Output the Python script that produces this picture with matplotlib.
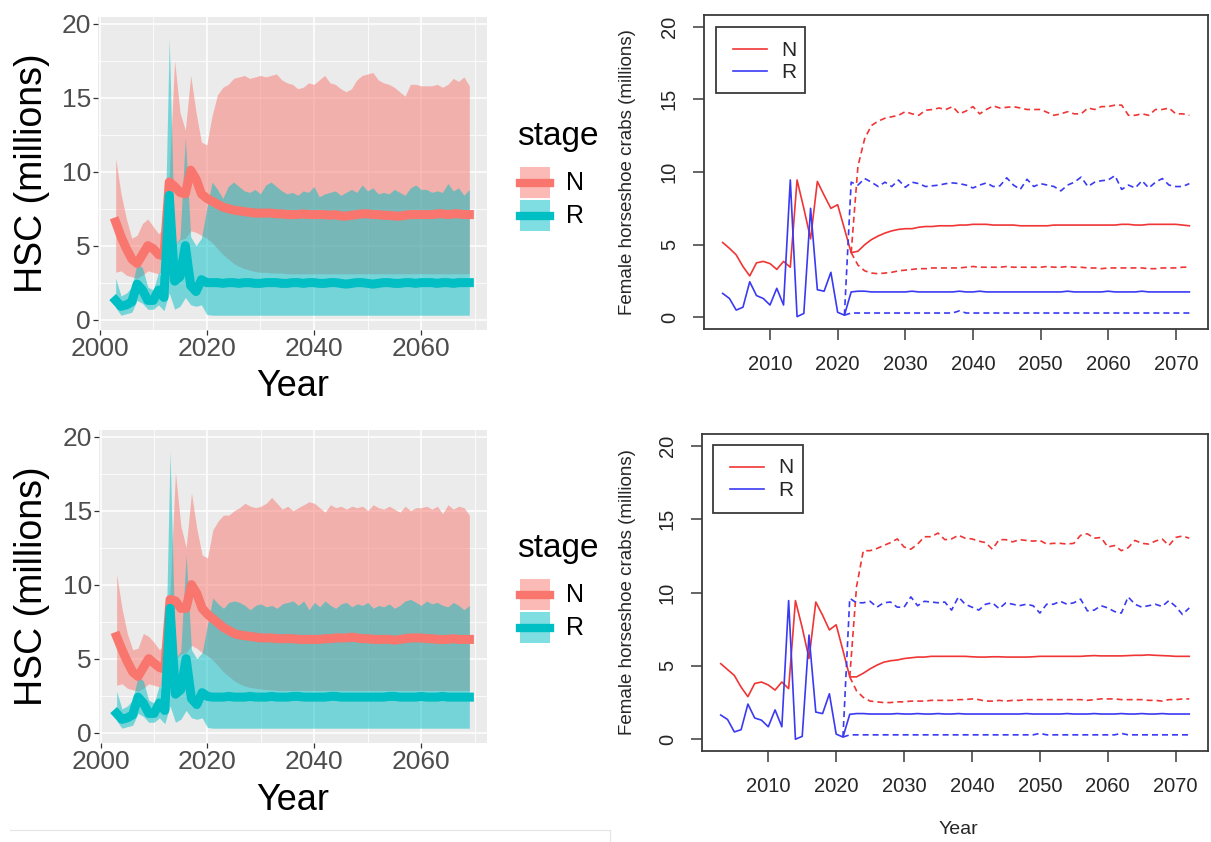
import numpy as np
import matplotlib
matplotlib.use("Agg")
import matplotlib.pyplot as plt
from matplotlib.lines import Line2D
from matplotlib.patches import Rectangle

#====== DATA ==========================================
# ggplot panels: median + 95% band per stage, 2003-2069
years_gg = np.arange(2003, 2070)

top_n_mid = [6.6, 5.6, 4.8, 4.1, 3.8, 4.4, 5.0, 4.8, 4.4, 4.3,
             9.3, 9.0, 8.6, 8.5, 10.1, 9.5, 8.5, 8.2, 8.0, 7.8,
             7.6, 7.5, 7.4, 7.35, 7.3, 7.25, 7.2, 7.2, 7.2, 7.2,
             7.15, 7.15, 7.1, 7.1, 7.1, 7.15, 7.1, 7.1, 7.1, 7.1,
             7.05, 7.1, 7.0, 7.0, 7.05, 7.1, 7.15, 7.15, 7.1, 7.1,
             7.05, 7.05, 7.0, 7.0, 7.05, 7.1, 7.1, 7.1, 7.1, 7.1,
             7.15, 7.15, 7.1, 7.15, 7.15, 7.1, 7.1]
top_n_hi = [10.9, 8.5, 6.8, 5.5, 5.7, 6.5, 6.8, 6.3, 5.8, 6.2,
            9.8, 17.5, 14.0, 12.8, 16.5, 14.0, 12.0, 11.8, 13.8, 15.2,
            15.7, 15.9, 16.3, 16.4, 16.5, 16.3, 16.4, 16.5, 16.4, 16.5,
            16.6, 16.2, 16.0, 15.9, 15.6, 15.7, 16.0, 15.9, 16.2, 16.5,
            16.0, 15.9, 15.6, 15.4, 15.6, 16.2, 16.5, 16.6, 16.7, 16.2,
            16.0, 15.9, 15.7, 15.4, 15.1, 15.9, 15.9, 15.8, 15.8, 15.8,
            15.9, 15.7, 15.9, 16.3, 16.1, 16.4, 15.8]
top_n_lo = [3.2, 3.3, 3.0, 2.9, 2.8, 3.0, 3.3, 3.2, 3.1, 3.3,
            4.2, 5.0, 5.4, 5.5, 6.0, 5.9, 5.7, 5.5, 5.2, 4.8,
            4.4, 4.1, 3.8, 3.6, 3.45, 3.35, 3.25, 3.2, 3.2, 3.15,
            3.15, 3.15, 3.1, 3.1, 3.1, 3.1, 3.1, 3.1, 3.1, 3.1,
            3.1, 3.1, 3.1, 3.1, 3.1, 3.1, 3.1, 3.1, 3.1, 3.1,
            3.1, 3.1, 3.1, 3.1, 3.1, 3.1, 3.1, 3.1, 3.1, 3.1,
            3.1, 3.1, 3.1, 3.1, 3.1, 3.1, 3.1]
top_r_mid = [1.3, 0.9, 1.0, 1.2, 2.4, 2.0, 1.3, 1.3, 2.0, 1.5,
             8.4, 2.6, 2.9, 5.0, 2.3, 1.9, 2.7, 2.5, 2.5, 2.5,
             2.45, 2.5, 2.5, 2.45, 2.5, 2.5, 2.45, 2.45, 2.5, 2.5,
             2.5, 2.45, 2.45, 2.5, 2.5, 2.45, 2.5, 2.5, 2.45, 2.45,
             2.5, 2.5, 2.45, 2.4, 2.45, 2.5, 2.5, 2.45, 2.4, 2.45,
             2.5, 2.5, 2.45, 2.45, 2.5, 2.5, 2.45, 2.5, 2.5, 2.5,
             2.45, 2.5, 2.5, 2.45, 2.5, 2.5, 2.5]
top_r_hi = [2.8, 1.6, 1.8, 2.2, 3.8, 3.5, 2.2, 2.0, 3.2, 2.5,
            19.0, 5.0, 5.5, 12.3, 5.6, 5.0, 5.5, 7.5, 9.3, 8.8,
            8.2, 9.0, 9.3, 9.0, 8.7, 8.6, 8.8, 8.5, 9.1, 9.3,
            9.0, 8.7, 8.5, 8.6, 8.4, 8.7, 8.6, 9.0, 8.3, 8.5,
            8.6, 8.7, 8.4, 8.6, 8.8, 8.6, 9.1, 8.7, 8.9, 8.5,
            8.6, 8.5, 8.8, 8.6, 8.4, 8.9, 9.1, 8.8, 8.8, 8.6,
            8.7, 8.6, 9.2, 8.7, 8.9, 8.4, 8.8]
top_r_lo = [0.8, 0.3, 0.4, 0.5, 1.3, 1.1, 0.7, 0.7, 1.0, 0.6,
            1.8, 0.7, 0.9, 1.5, 1.0, 0.9, 1.0, 0.35, 0.3, 0.3,
            0.3, 0.3, 0.3, 0.3, 0.3, 0.3, 0.3, 0.3, 0.3, 0.3,
            0.3, 0.3, 0.3, 0.3, 0.3, 0.3, 0.3, 0.3, 0.3, 0.3,
            0.3, 0.3, 0.3, 0.3, 0.3, 0.3, 0.3, 0.3, 0.3, 0.3,
            0.3, 0.3, 0.3, 0.3, 0.3, 0.3, 0.3, 0.3, 0.3, 0.3,
            0.3, 0.3, 0.3, 0.3, 0.3, 0.3, 0.3]

bot_n_mid = [6.5, 5.6, 4.8, 4.1, 3.8, 4.4, 5.0, 4.7, 4.4, 4.3,
             9.0, 8.9, 8.4, 8.4, 10.0, 9.4, 8.4, 8.0, 7.7, 7.4,
             7.1, 6.9, 6.7, 6.6, 6.55, 6.5, 6.45, 6.4, 6.4, 6.4,
             6.35, 6.35, 6.35, 6.35, 6.3, 6.3, 6.3, 6.3, 6.3, 6.35,
             6.35, 6.4, 6.4, 6.4, 6.45, 6.4, 6.35, 6.35, 6.3, 6.3,
             6.3, 6.3, 6.25, 6.3, 6.35, 6.4, 6.4, 6.4, 6.35, 6.35,
             6.3, 6.3, 6.3, 6.35, 6.3, 6.3, 6.3]
bot_n_hi = [10.7, 8.4, 6.7, 5.6, 5.7, 6.7, 6.5, 6.1, 5.6, 6.0,
            9.6, 17.6, 14.0, 12.5, 16.2, 13.8, 12.0, 11.8, 13.7, 14.3,
            14.7, 14.7, 15.0, 15.2, 15.5, 15.3, 15.2, 15.3, 15.5, 15.9,
            15.5, 15.1, 15.3, 15.0, 15.2, 15.4, 15.6, 15.5, 15.2, 14.9,
            15.4, 15.2, 15.3, 15.1, 15.3, 15.2, 15.3, 15.0, 15.4, 15.2,
            15.1, 15.3, 15.1, 14.9, 15.3, 15.0, 15.2, 15.2, 15.3, 15.1,
            15.3, 14.8, 15.4, 15.1, 15.3, 15.2, 14.7]
bot_n_lo = [3.2, 3.3, 3.0, 2.9, 2.8, 3.0, 3.3, 3.2, 3.1, 3.3,
            4.2, 5.0, 5.3, 5.4, 5.9, 5.7, 5.4, 5.2, 4.9, 4.5,
            4.1, 3.8, 3.5, 3.3, 3.15, 3.05, 3.0, 2.95, 2.9, 2.9,
            2.85, 2.85, 2.85, 2.85, 2.85, 2.85, 2.85, 2.85, 2.85, 2.85,
            2.85, 2.85, 2.85, 2.85, 2.85, 2.85, 2.85, 2.85, 2.85, 2.85,
            2.85, 2.85, 2.85, 2.85, 2.85, 2.85, 2.85, 2.85, 2.85, 2.85,
            2.85, 2.85, 2.85, 2.85, 2.85, 2.85, 2.85]
bot_r_mid = [1.3, 0.9, 1.0, 1.2, 2.4, 2.0, 1.3, 1.3, 2.0, 1.5,
             8.4, 2.6, 2.9, 5.0, 2.3, 1.9, 2.7, 2.45, 2.4, 2.4,
             2.4, 2.45, 2.4, 2.4, 2.4, 2.45, 2.4, 2.4, 2.4, 2.45,
             2.4, 2.4, 2.4, 2.45, 2.45, 2.4, 2.4, 2.4, 2.4, 2.4,
             2.45, 2.45, 2.4, 2.4, 2.4, 2.4, 2.4, 2.4, 2.4, 2.4,
             2.4, 2.45, 2.45, 2.4, 2.4, 2.4, 2.4, 2.45, 2.4, 2.4,
             2.4, 2.45, 2.4, 2.4, 2.4, 2.4, 2.4]
bot_r_hi = [2.8, 1.6, 1.8, 2.2, 3.8, 3.5, 2.2, 2.0, 3.2, 2.5,
            19.0, 5.0, 5.5, 12.0, 5.6, 5.0, 5.4, 7.3, 9.1, 8.7,
            8.4, 8.8, 8.9, 8.8, 8.6, 8.3, 8.6, 8.7, 8.5, 8.6,
            8.4, 8.7, 8.8, 8.9, 8.6, 8.9, 8.3, 8.8, 8.5, 8.9,
            8.6, 8.4, 8.7, 8.8, 8.5, 8.7, 8.6, 8.8, 8.4, 8.6,
            8.5, 8.7, 8.4, 8.6, 8.9, 9.0, 8.8, 8.6, 8.9, 8.7,
            8.8, 8.6, 8.5, 8.8, 8.6, 8.3, 8.6]
bot_r_lo = top_r_lo

# base-graphics panels: medians 2003-2072, dashed bounds from the forecast start
years_base = np.arange(2003, 2073)
years_fc_n = np.arange(2022, 2073)
years_fc_r = np.arange(2021, 2073)

top_med_n = [5.15, 4.75, 4.3, 3.5, 2.85, 3.75, 3.85, 3.7, 3.3, 3.85,
             3.45, 9.45, 7.5, 5.4, 9.35, 8.4, 7.5, 7.75, 6.1, 4.45,
             4.55, 5.0, 5.35, 5.6, 5.8, 5.95, 6.05, 6.1, 6.1, 6.2,
             6.25, 6.25, 6.3, 6.3, 6.3, 6.35, 6.35, 6.4, 6.4, 6.4,
             6.35, 6.35, 6.35, 6.35, 6.3, 6.3, 6.3, 6.3, 6.3, 6.35,
             6.35, 6.35, 6.35, 6.35, 6.35, 6.35, 6.35, 6.35, 6.35, 6.4,
             6.4, 6.35, 6.35, 6.4, 6.4, 6.4, 6.4, 6.4, 6.35, 6.3]
top_med_r = [1.65, 1.3, 0.5, 0.7, 2.45, 1.5, 1.3, 0.85, 2.0, 0.85,
             9.45, 0.05, 0.27, 7.5, 1.9, 1.8, 3.1, 0.35, 0.15, 1.75,
             1.8, 1.8, 1.75, 1.75, 1.75, 1.75, 1.75, 1.75, 1.8, 1.75,
             1.75, 1.75, 1.75, 1.75, 1.75, 1.8, 1.75, 1.75, 1.8, 1.75,
             1.75, 1.75, 1.75, 1.75, 1.75, 1.75, 1.75, 1.75, 1.75, 1.75,
             1.75, 1.8, 1.75, 1.75, 1.75, 1.75, 1.75, 1.8, 1.75, 1.75,
             1.75, 1.75, 1.8, 1.75, 1.75, 1.75, 1.75, 1.75, 1.75, 1.75]
top_up_n = [4.45,
            10.4, 12.3, 13.2, 13.5, 13.7, 13.8, 13.9, 14.15, 14.0, 13.9,
            14.25, 14.3, 14.4, 14.3, 14.5, 14.0, 14.2, 14.5, 14.0, 14.3,
            14.55, 14.4, 14.45, 14.5, 14.4, 14.3, 14.3, 14.3, 14.1, 13.9,
            14.0, 14.15, 14.0, 14.0, 14.4, 14.3, 14.5, 14.5, 14.6, 14.6,
            13.9, 13.9, 14.0, 13.9, 14.3, 14.3, 14.4, 14.0, 14.0, 13.9]
top_lo_n = [4.45,
            3.6, 3.2, 3.05, 3.0, 3.05, 3.1, 3.2, 3.25, 3.3, 3.35,
            3.35, 3.4, 3.4, 3.4, 3.4, 3.4, 3.45, 3.5, 3.45, 3.45,
            3.45, 3.45, 3.5, 3.45, 3.45, 3.45, 3.45, 3.45, 3.5, 3.45,
            3.45, 3.5, 3.45, 3.45, 3.4, 3.4, 3.35, 3.4, 3.4, 3.4,
            3.4, 3.4, 3.4, 3.35, 3.35, 3.4, 3.4, 3.4, 3.45, 3.45]
top_up_r = [0.15,
            9.3, 9.1, 9.55, 9.3, 9.0, 9.3, 9.0, 9.45, 8.95, 9.3,
            9.2, 9.0, 9.05, 9.1, 9.2, 9.25, 9.2, 9.1, 8.9, 9.1,
            9.25, 9.0, 9.05, 9.6, 9.1, 8.8, 9.5, 9.0, 9.2, 9.1,
            9.0, 8.7, 9.1, 9.3, 9.65, 9.0, 9.3, 9.4, 9.45, 9.75,
            8.8, 9.1, 8.9, 9.4, 8.9, 9.3, 9.55, 9.1, 9.0, 9.0,
            9.2]
top_lo_r = [0.15,
            0.3, 0.3, 0.3, 0.3, 0.3, 0.3, 0.3, 0.3, 0.3, 0.3,
            0.3, 0.3, 0.3, 0.3, 0.3, 0.3, 0.45, 0.3, 0.3, 0.3,
            0.3, 0.3, 0.3, 0.3, 0.3, 0.3, 0.3, 0.3, 0.3, 0.3,
            0.3, 0.3, 0.3, 0.3, 0.3, 0.3, 0.3, 0.3, 0.3, 0.3,
            0.3, 0.3, 0.3, 0.3, 0.3, 0.3, 0.3, 0.3, 0.3, 0.3,
            0.3]

bot_med_n = [5.15, 4.75, 4.35, 3.55, 2.9, 3.8, 3.9, 3.7, 3.35, 3.9,
             3.45, 9.45, 7.6, 5.5, 9.35, 8.45, 7.45, 7.8, 6.05, 4.25,
             4.25, 4.5, 4.8, 5.05, 5.25, 5.35, 5.4, 5.5, 5.55, 5.6,
             5.6, 5.65, 5.65, 5.65, 5.65, 5.65, 5.65, 5.62, 5.6, 5.6,
             5.62, 5.62, 5.6, 5.6, 5.6, 5.6, 5.62, 5.65, 5.65, 5.65,
             5.65, 5.65, 5.65, 5.65, 5.68, 5.7, 5.68, 5.68, 5.68, 5.68,
             5.7, 5.72, 5.72, 5.75, 5.72, 5.7, 5.68, 5.65, 5.65, 5.65]
bot_med_r = [1.65, 1.35, 0.5, 0.65, 2.4, 1.45, 1.3, 0.85, 2.0, 0.85,
             9.45, 0.0, 0.2, 7.1, 1.85, 1.75, 3.1, 0.35, 0.15, 1.7,
             1.75, 1.75, 1.72, 1.72, 1.72, 1.72, 1.75, 1.72, 1.72, 1.75,
             1.72, 1.72, 1.75, 1.72, 1.72, 1.75, 1.72, 1.72, 1.72, 1.72,
             1.72, 1.72, 1.72, 1.72, 1.72, 1.75, 1.72, 1.72, 1.72, 1.72,
             1.72, 1.75, 1.72, 1.72, 1.72, 1.75, 1.72, 1.72, 1.72, 1.75,
             1.72, 1.72, 1.75, 1.72, 1.72, 1.75, 1.72, 1.72, 1.72, 1.72]
bot_up_n = [4.25,
            10.4, 12.85, 12.85, 13.0, 13.2, 13.4, 13.65, 13.1, 12.95, 13.3,
            13.8, 13.8, 14.05, 13.6, 13.65, 13.9, 13.7, 13.65, 13.5, 13.4,
            12.95, 13.6, 13.6, 13.45, 13.6, 13.55, 13.5, 13.55, 13.3, 13.35,
            13.35, 13.3, 13.35, 13.9, 14.0, 13.7, 13.75, 13.1, 13.2, 12.85,
            13.05, 13.55, 13.35, 13.3, 13.5, 13.65, 13.2, 13.75, 13.85, 13.7]
bot_lo_n = [4.25,
            3.3, 2.85, 2.6, 2.55, 2.5, 2.5, 2.55, 2.55, 2.6, 2.6,
            2.6, 2.65, 2.65, 2.65, 2.65, 2.7, 2.7, 2.75, 2.7, 2.6,
            2.6, 2.65, 2.6, 2.65, 2.65, 2.7, 2.7, 2.7, 2.7, 2.7,
            2.7, 2.7, 2.7, 2.7, 2.65, 2.7, 2.75, 2.75, 2.75, 2.7,
            2.7, 2.7, 2.7, 2.65, 2.65, 2.6, 2.7, 2.7, 2.75, 2.75]
bot_up_r = [0.15,
            9.6, 9.3, 9.3, 9.4, 9.0, 9.3, 9.35, 9.0, 9.0, 9.7,
            9.1, 9.4, 9.35, 9.3, 9.35, 8.8, 9.7, 9.2, 9.0, 8.8,
            9.2, 9.3, 8.9, 9.3, 9.2, 9.1, 9.2, 9.1, 8.6, 9.2,
            9.2, 9.4, 9.2, 9.3, 9.55, 8.75, 8.8, 9.1, 8.95, 8.7,
            8.6, 9.7, 9.2, 9.0, 9.1, 9.2, 9.05, 9.45, 9.05, 8.5,
            8.95]
bot_lo_r = [0.15,
            0.3, 0.3, 0.3, 0.3, 0.3, 0.3, 0.3, 0.3, 0.3, 0.3,
            0.3, 0.3, 0.3, 0.3, 0.3, 0.3, 0.3, 0.3, 0.3, 0.3,
            0.3, 0.3, 0.3, 0.3, 0.3, 0.3, 0.3, 0.3, 0.4, 0.3,
            0.3, 0.3, 0.3, 0.3, 0.3, 0.3, 0.3, 0.3, 0.3, 0.3,
            0.4, 0.3, 0.3, 0.3, 0.3, 0.3, 0.3, 0.3, 0.3, 0.3,
            0.3]

#====== STYLE =========================================
W, H = 1211, 842
GG_N, GG_R = "#F8766D", "#00BFC4"
BASE_N, BASE_R = "#f03535", "#3a3af2"
FONT = "Liberation Sans"
plt.rcParams["font.family"] = [FONT, "DejaVu Sans"]


def px_box(left, top, right, bottom):
    # pixel box (origin top-left) -> figure fraction rect
    return [left / W, 1 - bottom / H, (right - left) / W, (bottom - top) / H]


def fx(x):
    return x / W


def fy(y):
    return 1 - y / H


#====== HELPERS =======================================
def gg_panel(fig, box, n_mid, n_lo, n_hi, r_mid, r_lo, r_hi, legend_y):
    ax = fig.add_axes(px_box(*box))
    ax.set_facecolor("#EBEBEB")
    for s in ax.spines.values():
        s.set_visible(False)

    ax.fill_between(years_gg, n_lo, n_hi, color=GG_N, alpha=0.5, lw=0)
    ax.fill_between(years_gg, r_lo, r_hi, color=GG_R, alpha=0.5, lw=0)
    ax.plot(years_gg, n_mid, color=GG_N, lw=6.5, solid_joinstyle="round")
    ax.plot(years_gg, r_mid, color=GG_R, lw=6.5, solid_joinstyle="round")

    ax.set_xlim(1999.7, 2072.3)
    ax.set_ylim(-0.7, 20.45)
    ax.set_xticks([2000, 2020, 2040, 2060])
    ax.set_xticks([2010, 2030, 2050, 2070], minor=True)
    ax.set_yticks([0, 5, 10, 15, 20])
    ax.set_yticks([2.5, 7.5, 12.5, 17.5], minor=True)
    ax.set_axisbelow(True)
    ax.grid(which="major", color="white", lw=1.1)
    ax.grid(which="minor", color="white", lw=0.55)
    ax.tick_params(which="major", length=3.5, width=0.9, color="#333333",
                   labelsize=19, labelcolor="#4D4D4D", pad=1.5)
    ax.tick_params(which="minor", length=0)

    cx = (box[0] + box[2]) / 2
    cy = (box[1] + box[3]) / 2
    fig.text(fx(32), fy(cy), "HSC (millions)", rotation=90, fontsize=27,
             ha="center", va="center")
    fig.text(fx(cx), fy(box[3] + 57), "Year", fontsize=26,
             ha="center", va="center")

    # stage legend
    fig.text(fx(517), fy(legend_y), "stage", fontsize=24, ha="left", va="center")
    for i, (lab, col) in enumerate([("N", GG_N), ("R", GG_R)]):
        top = legend_y + 31 + i * 33
        fig.add_artist(Rectangle((fx(520), fy(top + 31)), 30 / W, 31 / H,
                                 transform=fig.transFigure, facecolor=col,
                                 alpha=0.5, lw=0))
        fig.add_artist(Line2D([fx(520), fx(550)], [fy(top + 15.5)] * 2,
                              transform=fig.transFigure, color=col, lw=6))
        fig.text(fx(566), fy(top + 16), lab, fontsize=18, ha="left", va="center")
    return ax


def base_panel(fig, box, med_n, med_r, up_n, lo_n, up_r, lo_r, leg, xlabel):
    ax = fig.add_axes(px_box(*box))
    for s in ax.spines.values():
        s.set_color("#3a3a3a")
        s.set_linewidth(1.3)

    dash = dict(lw=1.2, dashes=(3.6, 2.4))
    ax.plot(years_base, med_n, color=BASE_N, lw=1.2)
    ax.plot(years_base, med_r, color=BASE_R, lw=1.2)
    ax.plot(years_fc_n, up_n, color=BASE_N, **dash)
    ax.plot(years_fc_n, lo_n, color=BASE_N, **dash)
    ax.plot(years_fc_r, up_r, color=BASE_R, **dash)
    ax.plot(years_fc_r, lo_r, color=BASE_R, **dash)

    ax.set_xlim(2000.24, 2074.76)
    ax.set_ylim(-0.8, 20.8)
    ax.set_xticks(np.arange(2010, 2071, 10))
    ax.set_yticks([0, 5, 10, 15, 20])
    ax.tick_params(length=8, width=1.1, color="#3a3a3a", labelsize=14.5,
                   labelcolor="#262626", pad=11)
    ax.tick_params(axis="y", labelrotation=90, pad=10)
    for lbl in ax.get_yticklabels():
        lbl.set_va("center")

    cy = (box[1] + box[3]) / 2
    fig.text(fx(628), fy(cy), "Female horseshoe crabs (millions)", rotation=90,
             fontsize=13.5, color="#262626", ha="center", va="center")
    if xlabel:
        fig.text(fx(958), fy(box[3] + 79), "Year", fontsize=14,
                 color="#262626", ha="center", va="center")

    # legend box
    l, t, r, b = leg
    fig.add_artist(Rectangle((fx(l), fy(b)), (r - l) / W, (b - t) / H,
                             transform=fig.transFigure, facecolor="white",
                             edgecolor="#3a3a3a", lw=1.3))
    for i, (lab, col) in enumerate([("N", BASE_N), ("R", BASE_R)]):
        y = t + 22 + i * 22
        fig.add_artist(Line2D([fx(l + 17), fx(l + 51)], [fy(y)] * 2,
                              transform=fig.transFigure, color=col, lw=1.2))
        fig.text(fx(l + 65), fy(y + 1), lab, fontsize=15, color="#262626",
                 ha="left", va="center")
    return ax


#====== FIGURE ========================================
fig = plt.figure(figsize=(W / 100, H / 100), dpi=100)
fig.patch.set_facecolor("white")

gg_panel(fig, (98, 17, 487, 330), top_n_mid, top_n_lo, top_n_hi,
         top_r_mid, top_r_lo, top_r_hi, legend_y=136)
gg_panel(fig, (99, 430, 487, 743), bot_n_mid, bot_n_lo, bot_n_hi,
         bot_r_mid, bot_r_lo, bot_r_hi, legend_y=548)

base_panel(fig, (704, 15, 1208, 329), top_med_n, top_med_r, top_up_n, top_lo_n,
           top_up_r, top_lo_r, leg=(716, 27, 805, 93), xlabel=False)
base_panel(fig, (702, 434, 1208, 751), bot_med_n, bot_med_r, bot_up_n, bot_lo_n,
           bot_up_r, bot_lo_r, leg=(713, 445, 803, 513), xlabel=True)

# faint divider under the lower-left plot
fig.add_artist(Line2D([fx(10), fx(610)], [fy(830)] * 2,
                      transform=fig.transFigure, color="#e4e4e4", lw=0.8))
fig.add_artist(Line2D([fx(610), fx(610)], [fy(830), fy(842)],
                      transform=fig.transFigure, color="#e4e4e4", lw=0.8))

fig.savefig("out.png", dpi=100)
